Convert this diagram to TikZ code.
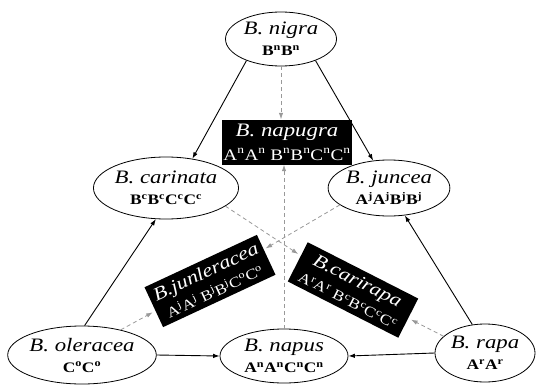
\documentclass[tikz,border=0pt]{standalone}
\usepackage{fontspec}
\setmainfont{Liberation Serif}[FakeStretch=1.2]
\usetikzlibrary{shapes.geometric,arrows.meta}
\newcommand\gs[1]{\textsuperscript{#1}}
\newcommand\nmtxt[1]{{\fontsize{19}{21}\selectfont\itshape #1}}
\newcommand\gttxt[1]{{\fontsize{14.5}{21}\selectfont\bfseries #1}}
\newcommand\hnm[1]{{\fontsize{18.5}{22}\selectfont\itshape #1}}
\newcommand\hgt[1]{{\fontsize{14.5}{22}\selectfont #1}}
\begin{document}
\begin{tikzpicture}[x=1pt,y=-1pt,
  sp/.style={ellipse,draw,line width=0.8pt,inner sep=0pt,align=center,font=\fontsize{19}{21}\selectfont},
  hy/.style={rectangle,fill=black,text=white,inner sep=0pt,align=center,minimum width=124pt,minimum height=44pt,font=\fontsize{18.5}{21}\selectfont},
  solidarr/.style={-{Latex[length=6.5pt,width=4.5pt]},line width=0.9pt},
  grayarr/.style={-{Latex[length=6.5pt,width=4.5pt]},draw=black!40,line width=0.8pt,dash pattern=on 4pt off 3pt},
]
\useasboundingbox (0,0) rectangle (537,385);
\node[sp,minimum width=111pt,minimum height=54pt] (nigra) at (281,39) {\nmtxt{B. nigra}\\\gttxt{B\gs{n}B\gs{n}}};
\node[sp,minimum width=128pt,minimum height=62pt] (carinata) at (166,188) {\nmtxt{B. carinata}\\\gttxt{B\gs{c}B\gs{c}C\gs{c}C\gs{c}}};
\node[sp,minimum width=108pt,minimum height=56pt] (juncea) at (389,188) {\nmtxt{B. juncea}\\\gttxt{A\gs{j}A\gs{j}B\gs{j}B\gs{j}}};
\node[sp,minimum width=142pt,minimum height=58pt] (oleracea) at (82,355) {\nmtxt{B. oleracea}\\\gttxt{C\gs{o}C\gs{o}}};
\node[sp,minimum width=128pt,minimum height=54pt] (napus) at (284,356) {\nmtxt{B. napus}\\\gttxt{A\gs{n}A\gs{n}C\gs{n}C\gs{n}}};
\node[sp,minimum width=100pt,minimum height=58pt] (rapa) at (485,353) {\nmtxt{B. rapa}\\\gttxt{A\gs{r}A\gs{r}}};
\node[hy,minimum width=130pt,minimum height=45pt,font=\fontsize{19}{24}\selectfont] (napugra) at (287,142) {{\fontsize{19}{24}\selectfont\itshape B. napugra}\\{\fontsize{16}{24}\selectfont A\gs{n}A\gs{n} B\gs{n}B\gs{n}C\gs{n}C\gs{n}}};
\node[hy,rotate=25] (junleracea) at (210,281) {\hnm{B.junleracea}\\\hgt{A\gs{j}A\gs{j} B\gs{j}B\gs{j}C\gs{o}C\gs{o}}};
\node[hy,rotate=-27] (carirapa) at (353,290) {\hnm{B.carirapa}\\\hgt{A\gs{r}A\gs{r} B\gs{c}B\gs{c}C\gs{c}C\gs{c}}};
% solid arrows
\draw[solidarr] (nigra.212) -- (carinata.48);
\draw[solidarr] (nigra.-32) -- (juncea.120);
\draw[solidarr] (oleracea.85) -- (carinata.252);
\draw[solidarr] (rapa.114) -- (juncea.-60);
\draw[solidarr] (oleracea.east) -- (napus.west);
\draw[solidarr] (rapa.west) -- (napus.east);
% dashed grey arrows
\draw[grayarr] (nigra.south) -- (nigra.south |- napugra.north);
\draw[grayarr] (napus.north) -- (napus.north |- napugra.south);
\draw[grayarr,shorten >=3pt] (carinata.-17) -- (carirapa);
\draw[grayarr,shorten >=2pt] (juncea.199) -- (junleracea);
\draw[grayarr,shorten >=3pt] (oleracea.33) -- (junleracea);
\draw[grayarr,shorten >=3pt] (rapa.158) -- (carirapa);
\end{tikzpicture}
\end{document}
